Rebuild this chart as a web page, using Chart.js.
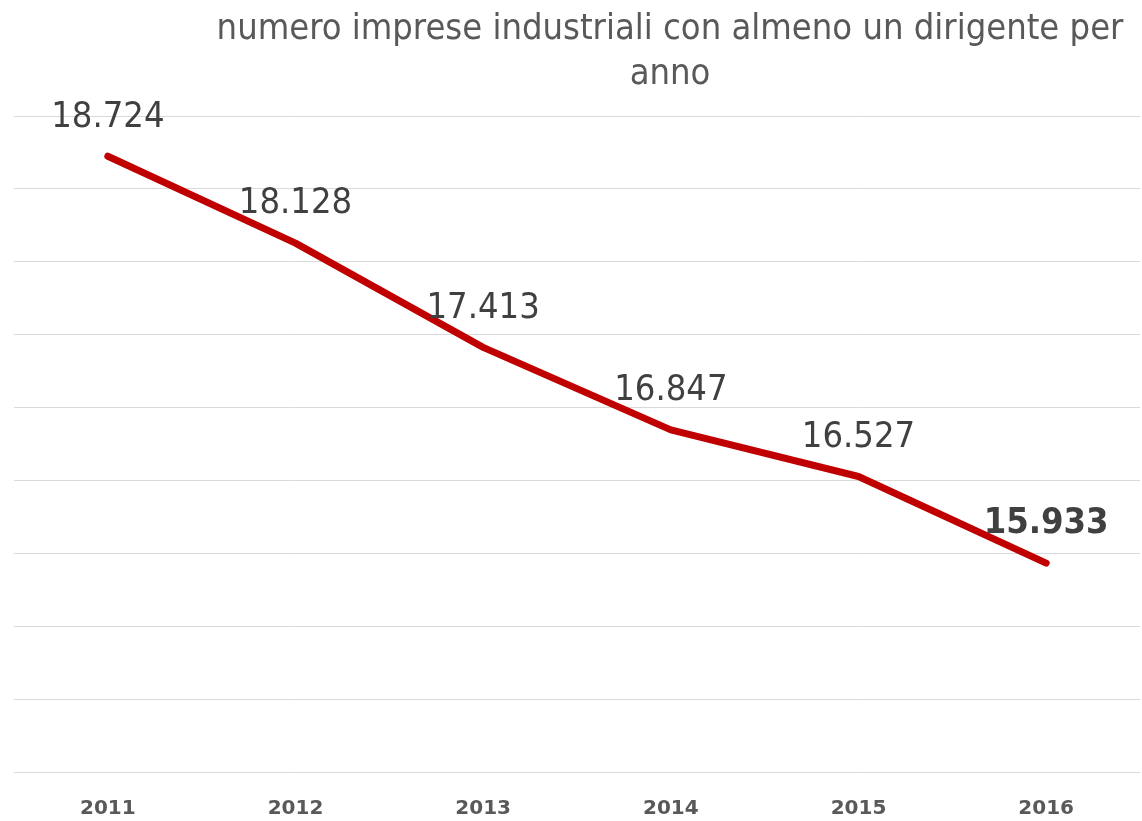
<!DOCTYPE html>
<html>
<head>
<meta charset="utf-8">
<script src="https://cdn.jsdelivr.net/npm/chart.js@4.4.1/dist/chart.umd.min.js"></script>
<style>
  body { margin: 0; background: #fff; }
  #wrap { position: relative; width: 1142px; height: 821px; }
  #title {
    position: absolute; left: 120px; width: 1100px; top: 4px;
    text-align: center; font-family: 'DejaVu Sans Condensed', 'DejaVu Sans', sans-serif;
    font-size: 36px; line-height: 45px; color: #595959;
  }
</style>
</head>
<body>
<div id="wrap">
  <canvas id="myChart" width="1142" height="821"></canvas>
  <div id="title">numero imprese industriali con almeno un dirigente per<br>anno</div>
</div>
<script>
  const years = ['2011', '2012', '2013', '2014', '2015', '2016'];
  const imprese = [18724, 18128, 17413, 16847, 16527, 15933];
  const labelText = ['18.724', '18.128', '17.413', '16.847', '16.527', '15.933'];

  // etichette sopra i punti, l'ultima in grassetto
  const valueLabels = {
    id: 'valueLabels',
    afterDatasetsDraw(chart) {
      const ctx = chart.ctx;
      const meta = chart.getDatasetMeta(0);
      ctx.save();
      ctx.textAlign = 'center';
      ctx.textBaseline = 'middle';
      ctx.fillStyle = '#404040';
      meta.data.forEach(function (pt, i) {
        const last = i == meta.data.length - 1;
        ctx.font = (last ? 'bold ' : '') + '36px "DejaVu Sans Condensed", "DejaVu Sans"';
        ctx.fillText(labelText[i], pt.x, pt.y - 39);
      });
      ctx.restore();
    }
  };

  const myChart = new Chart(document.getElementById('myChart'), {
    type: 'line',
    data: {
      labels: years,
      datasets: [{
        data: imprese,
        borderColor: '#c00000',
        borderWidth: 7,
        borderCapStyle: 'round',
        borderJoinStyle: 'round',
        pointRadius: 0,
        tension: 0
      }]
    },
    options: {
      responsive: false,
      animation: false,
      layout: { padding: { top: 116, left: 14, right: 2, bottom: -17 } },
      plugins: { legend: { display: false }, tooltip: { enabled: false } },
      scales: {
        x: {
          offset: true,
          grid: { display: false },
          border: { display: false },
          ticks: { color: '#595959', padding: 17, font: { family: 'DejaVu Sans', size: 20, weight: 'bold' } }
        },
        y: {
          min: 14500,
          max: 19000,
          border: { display: false },
          grid: { color: '#d9d9d9', drawTicks: false },
          ticks: { display: false, stepSize: 500 }
        }
      }
    },
    plugins: [valueLabels]
  });
</script>
</body>
</html>
